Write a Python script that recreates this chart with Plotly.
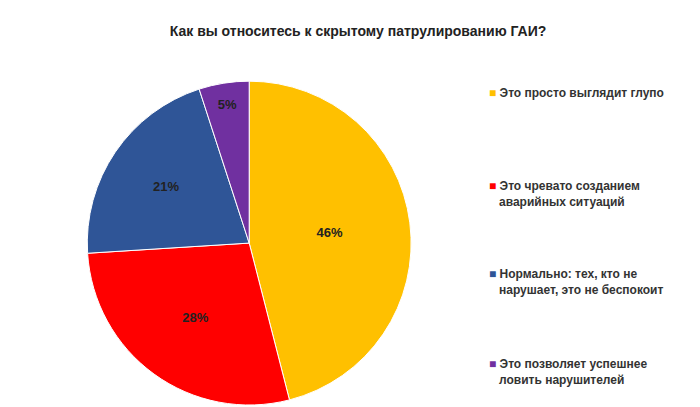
import plotly.graph_objects as go

labels = ["Это просто выглядит глупо",
          "Это чревато созданием<br>аварийных ситуаций",
          "Нормально: тех, кто не<br>нарушает, это не беспокоит",
          "Это позволяет успешнее<br>ловить нарушителей"]
values = [46, 28, 21, 5]
colors = ["#FFC000", "#FF0000", "#2F5597", "#7030A0"]
legend_y = [0.886, 0.60, 0.35, 0.094]

font_family = "Liberation Sans, Arial, sans-serif"

fig = go.Figure()
fig.add_trace(go.Pie(
    labels=labels, values=values, sort=False, direction="clockwise", rotation=0,
    marker=dict(colors=colors, line=dict(color="white", width=1)),
    texttemplate="<b>%{percent:.0%}</b>", textposition="inside",
    insidetextfont=dict(color="#222222", size=13, family=font_family),
    domain=dict(x=[0.0, 0.68], y=[0.0, 0.92]), showlegend=False,
    hoverinfo="label+percent",
))

for lab, col, yy in zip(labels, colors, legend_y):
    fig.add_annotation(
        x=0.69, y=yy, xref="paper", yref="paper", xanchor="left", yanchor="middle",
        align="left", showarrow=False,
        text=f"<span style='color:{col}'>■</span> <b>{lab.replace('<br>', '<br>   ')}</b>",
        font=dict(size=12, color="#333333", family=font_family),
    )

fig.update_layout(
    width=700, height=407,
    title=dict(text="<b>Как вы относитесь к скрытому патрулированию ГАИ?</b>",
               x=0.5, y=0.955, xanchor="center",
               font=dict(size=14, color="#222222", family=font_family)),
    margin=dict(l=10, r=10, t=45, b=10),
    paper_bgcolor="white", plot_bgcolor="white",
)
fig.write_html("out.html")
